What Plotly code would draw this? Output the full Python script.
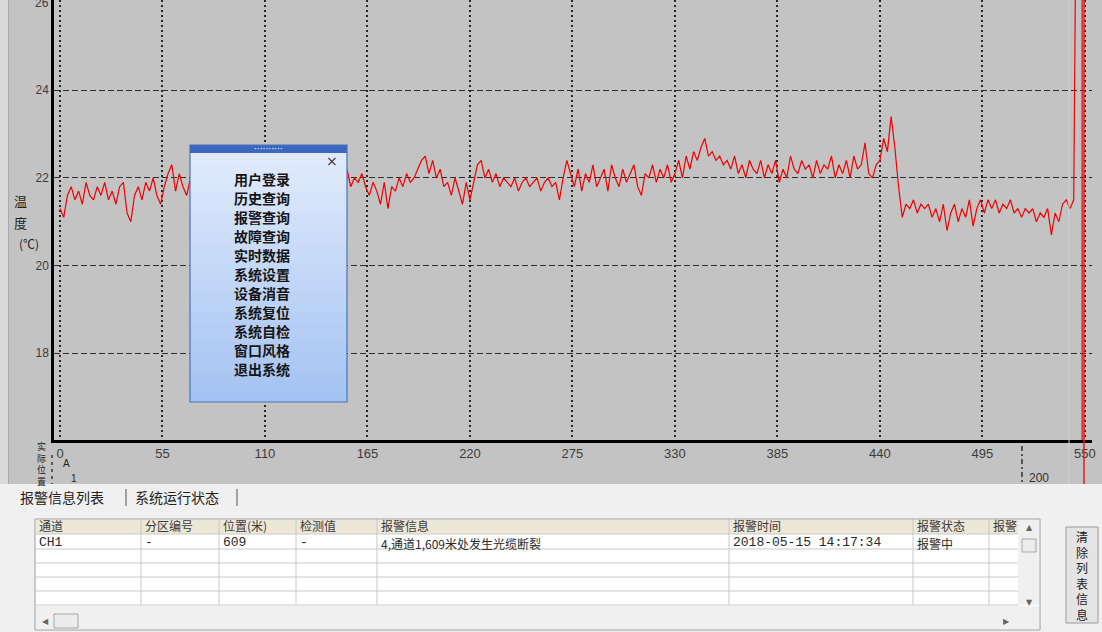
import plotly.graph_objects as go

# ---------------- data ----------------
# fibre temperature profile, sampled every 2 m along the cable
positions_m = list(range(0, 545, 2))
temperature_c = [
    21.3, 21.1, 21.6, 21.8, 21.5, 21.7, 21.4, 21.9, 21.6, 21.5,
    21.8, 21.6, 21.9, 21.5, 21.7, 21.4, 21.8, 21.9, 21.2, 21.0,
    21.6, 21.8, 21.5, 21.9, 21.7, 22.0, 21.6, 21.4, 21.8, 22.1,
    22.3, 21.7, 22.1, 21.8, 21.6, 22.0, 21.7, 21.9, 21.5, 21.8,
    21.9, 21.6, 22.0, 21.7, 21.8, 21.5, 21.9, 22.1, 21.7, 21.8,
    21.6, 21.9, 21.7, 22.0, 21.8, 21.5, 21.9, 21.7, 22.1, 21.8,
    21.7, 21.9, 21.6, 22.0, 21.8, 21.7, 22.1, 21.9, 21.6, 21.8,
    22.0, 21.7, 21.9, 21.8, 22.1, 21.7, 21.9, 22.2, 21.8, 22.0,
    21.9, 22.1, 21.8, 21.6, 21.9, 21.7, 21.4, 21.9, 21.3, 21.8,
    21.7, 22.0, 21.8, 22.1, 21.9, 22.0, 22.2, 22.4, 22.5, 22.1,
    22.4, 22.0, 22.2, 21.8, 21.9, 21.6, 22.0, 21.7, 21.4, 21.9,
    21.5, 21.9, 22.3, 22.4, 22.0, 22.2, 21.9, 22.1, 21.8, 22.0,
    21.9, 21.8, 22.0, 21.7, 21.9, 22.0, 21.8, 21.9, 22.0, 21.7,
    21.9, 22.0, 21.8, 21.9, 21.5, 22.0, 22.4, 22.1, 21.8, 22.2,
    21.7, 22.1, 21.9, 22.3, 21.8, 22.0, 22.2, 21.7, 22.3, 22.0,
    21.8, 22.2, 21.9, 22.1, 22.3, 21.8, 21.6, 22.1, 22.0, 22.3,
    21.9, 22.2, 22.0, 22.3, 21.9, 22.1, 22.4, 22.0, 22.5, 22.2,
    22.6, 22.4, 22.7, 22.9, 22.5, 22.6, 22.4, 22.5, 22.3, 22.4,
    22.2, 22.5, 22.1, 22.3, 22.0, 22.4, 22.2, 22.1, 22.4, 22.0,
    22.3, 22.1, 22.4, 21.9, 22.2, 22.0, 22.5, 22.2, 22.1, 22.4,
    22.2, 22.3, 22.0, 22.4, 22.1, 22.3, 22.2, 22.5, 22.0, 22.3,
    22.1, 22.4, 22.0, 22.5, 22.2, 22.3, 22.8, 22.1, 22.0, 22.3,
    22.4, 22.9, 22.6, 23.4, 22.7, 21.8, 21.1, 21.4, 21.3, 21.5,
    21.2, 21.4, 21.3, 21.4, 21.1, 21.3, 21.0, 21.4, 20.8, 21.2,
    21.4, 21.0, 21.3, 21.1, 21.5, 20.9, 21.3, 21.5, 21.2, 21.5,
    21.3, 21.5, 21.2, 21.4, 21.3, 21.5, 21.2, 21.3, 21.1, 21.3,
    21.2, 21.3, 21.0, 21.2, 21.1, 21.3, 20.7, 21.2, 21.0, 21.4,
    21.5, 21.3, 21.5,
]
# signal jump where the fibre is broken
break_positions_m = [545.0, 548.5, 548.5]
break_temperature_c = [27.0, 27.0, 15.0]
cursor_position_m = 549.5

x_ticks = [0, 55, 110, 165, 220, 275, 330, 385, 440, 495, 550]
y_ticks = [18, 20, 22, 24]
y_top_label = "26"

menu_items = ["用户登录", "历史查询", "报警查询", "故障查询", "实时数据", "系统设置",
              "设备消音", "系统复位", "系统自检", "窗口风格", "退出系统"]
tab_labels = ["报警信息列表", "系统运行状态"]
table_headers = ["通道", "分区编号", "位置(米)", "检测值", "报警信息", "报警时间", "报警状态", "报警"]
alarm_row = ["CH1", "-", "609", "-", "4,通道1,609米处发生光缆断裂", "2018-05-15 14:17:34", "报警中", ""]
button_label = "清除列表信息"
position_caption = "实际位置"

# ---------------- layout helpers (pixel -> paper) ----------------
W, H = 1102, 632
L, R, T, B = 54, 1092, 0, 440


def fx(px):
    return (px - L) / (R - L)


def fy(py):
    return (B - py) / (B - T)


BG = "#c3c3c3"
PANEL = "#f0f0f0"
CJK = "Noto Sans CJK SC"
MONO = "Liberation Mono"

shapes = []
annotations = []


def rect(x0, y0, x1, y1, fill, line=None, lw=1):
    shapes.append(dict(type="rect", xref="paper", yref="paper",
                       x0=fx(x0), x1=fx(x1), y0=fy(y1), y1=fy(y0),
                       fillcolor=fill, layer="above",
                       line=dict(color=line or fill, width=lw if line else 0)))


def hline(x0, x1, y, color, width=1, dash="solid"):
    shapes.append(dict(type="line", xref="paper", yref="paper",
                       x0=fx(x0), x1=fx(x1), y0=fy(y), y1=fy(y), layer="above",
                       line=dict(color=color, width=width, dash=dash)))


def vline(x, y0, y1, color, width=1, dash="solid"):
    shapes.append(dict(type="line", xref="paper", yref="paper",
                       x0=fx(x), x1=fx(x), y0=fy(y0), y1=fy(y1), layer="above",
                       line=dict(color=color, width=width, dash=dash)))


def text(x, y, s, size=12, color="#222", family=CJK, xanchor="left", bold=False):
    if bold:
        s = "<b>" + s + "</b>"
    annotations.append(dict(xref="paper", yref="paper", x=fx(x), y=fy(y), text=s,
                            showarrow=False, xanchor=xanchor, yanchor="middle",
                            font=dict(family=family, size=size, color=color),
                            borderpad=0))


# ---------------- figure ----------------
fig = go.Figure()
fig.add_trace(go.Scatter(
    x=positions_m + break_positions_m,
    y=temperature_c + break_temperature_c,
    mode="lines", line=dict(color="#f00000", width=1.2),
    showlegend=False, hoverinfo="skip"))

# break cursor line, running below the position axis
shapes.append(dict(type="line", xref="x", yref="paper", x0=cursor_position_m, x1=cursor_position_m,
                   y0=fy(484), y1=1, layer="above", line=dict(color="#e02020", width=1.5)))

# left window edge
rect(0, 0, 8, 484, "#d9d9d9")
vline(8.5, 0, 484, "#a9a9a9", 1)
vline(1069, 0, 484, "#d2d2d2", 1)

# top scale value, half cut by the window edge
text(50, 3, y_top_label, 12, "#3c3c3c", family="Liberation Sans", xanchor="right")

# axis captions
text(20, 200, "温", 13, "#222", xanchor="center")
text(20, 222, "度", 13, "#222", xanchor="center")
text(29, 243, "(℃)", 12, "#222", xanchor="center")

# position scale below the axis
annotations.append(dict(xref="paper", yref="paper", x=fx(41), y=fy(439), text="<br>".join(position_caption),
                        showarrow=False, xanchor="center", yanchor="top",
                        font=dict(family=CJK, size=9, color="#222"), borderpad=0))
vline(52, 455, 484, "#333", 1.5, "3px,4px")
text(62, 463, "A", 10, "#222", family="Liberation Sans")
text(70, 478, "1", 10, "#222", family="Liberation Sans")
vline(1022, 446, 484, "#333", 1.5, "5px,3px,2px,3px")
text(1028, 478, "200", 12, "#333", family="Liberation Sans")

# popup menu
PX0, PX1, PY0, PY1 = 190, 347, 145, 402
bands = 25
c0, c1 = (224, 234, 252), (164, 195, 242)
for i in range(bands):
    t = i / (bands - 1)
    col = "rgb(%d,%d,%d)" % tuple(round(a + (b - a) * t) for a, b in zip(c0, c1))
    ya = 153 + (PY1 - 153) * i / bands
    yb = 153 + (PY1 - 153) * (i + 1) / bands + 0.6
    rect(PX0, ya, PX1, min(yb, PY1), col)
rect(PX0, PY0, PX1, 153, "#3b68be")
shapes.append(dict(type="rect", xref="paper", yref="paper", x0=fx(PX0), x1=fx(PX1),
                   y0=fy(PY1), y1=fy(PY0), layer="above", fillcolor="rgba(0,0,0,0)",
                   line=dict(color="#4a72bb", width=1.2)))
text(268, 148.5, "··········", 9, "#ffffff", family="DejaVu Sans", xanchor="center")
text(332, 161, "×", 14, "#333", family="DejaVu Sans", xanchor="center")
for i, item in enumerate(menu_items):
    text(262, 179 + 19 * i, item, 14, "#151515", xanchor="center", bold=True)

# lower panel
rect(0, 484, W, H, PANEL)
text(19, 497, tab_labels[0], 14, "#222")
vline(126, 489, 506, "#555", 1)
text(134, 497, tab_labels[1], 14, "#222")
vline(237, 489, 506, "#555", 1)

# alarm table
TX0, TX1, TY0, TY1 = 35, 1040, 519, 630
col_x = [35, 141, 219, 296, 377, 729, 913, 989, 1018]
row_y = [519, 534, 549, 563, 577, 591, 605]
rect(TX0, TY0, TX1, TY1, "#ffffff", "#9c9c9c", 1)
rect(col_x[0] + 1, row_y[0] + 1, col_x[-1], row_y[1], "#ede7d7")
for yy in row_y[1:]:
    hline(col_x[0], col_x[-1], yy, "#c9c9c9", 1)
for xx in col_x[1:-1]:
    vline(xx, row_y[0], row_y[-1], "#c9c9c9", 1)
for i, h in enumerate(table_headers):
    text(col_x[i] + 3, 525.5, h, 12, "#3a3a3a")
for i, v in enumerate(alarm_row):
    if i in (4, 6):
        text(col_x[i] + 3, 543.5, v, 12, "#2a2a2a", family=CJK)
    else:
        text(col_x[i] + 3, 542, v, 13, "#2a2a2a", family=MONO)

# table scrollbars
rect(1018, 520, 1039, 605, "#f0f0f0")
text(1029, 527, "▲", 8, "#666", family="DejaVu Sans", xanchor="center")
rect(1022, 539, 1036, 552, "#ececec", "#a6a6a6", 1)
text(1029, 602, "▼", 8, "#666", family="DejaVu Sans", xanchor="center")
rect(36, 606, 1039, 629, "#f0f0f0")
text(45, 621, "◀", 8, "#666", family="DejaVu Sans", xanchor="center")
rect(54, 614, 78, 628, "#ececec", "#a6a6a6", 1)
text(1006, 621, "▶", 8, "#666", family="DejaVu Sans", xanchor="center")

# side button
rect(1066, 527, 1098, 623, "#e4e4e4", "#9a9a9a", 1)
annotations.append(dict(xref="paper", yref="paper", x=fx(1082), y=fy(575), text="<br>".join(button_label),
                        showarrow=False, xanchor="center", yanchor="middle",
                        font=dict(family=CJK, size=12, color="#222"), borderpad=0))

fig.update_layout(
    width=W, height=H,
    margin=dict(l=L, r=W - R, t=T, b=H - B, pad=0),
    paper_bgcolor=BG, plot_bgcolor=BG,
    showlegend=False,
    xaxis=dict(range=[-3.22, 553.8], tickvals=x_ticks, ticks="",
               showgrid=True, gridcolor="#262626", griddash="2px,3px", gridwidth=1.5,
               zeroline=False, showline=True, linecolor="#000", linewidth=2.5,
               tickfont=dict(family="Liberation Sans", size=13, color="#3c3c3c")),
    yaxis=dict(range=[16.02, 26.06], tickvals=y_ticks, ticks="",
               showgrid=True, gridcolor="#2e2e2e", griddash="6px,3px", gridwidth=1,
               zeroline=False, showline=True, linecolor="#000", linewidth=2.5,
               tickfont=dict(family="Liberation Sans", size=12, color="#3c3c3c")),
    shapes=shapes,
    annotations=annotations,
)

fig.write_html("out.html")
